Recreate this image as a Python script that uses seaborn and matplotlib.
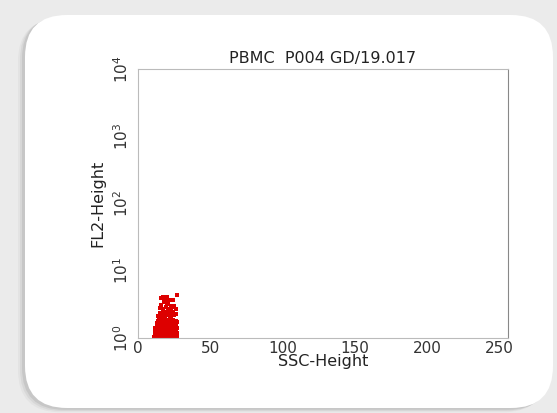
import pandas as pd
import matplotlib.pyplot as plt
import seaborn as sns
from matplotlib.patches import FancyBboxPatch
from matplotlib.ticker import MultipleLocator, LogLocator, LogFormatterMathtext

# Event values (SSC-Height, FL2-Height)
ssc = [11, 12, 13, 14, 15, 16, 17, 18, 19, 20, 21, 22, 23, 24, 25, 26, 27,
       12.5, 14.5, 16.5, 18.5, 20.5, 22.5, 24.5, 26.5, 13.5, 17.5, 21.5, 25.5,
       12, 13, 14, 15, 16, 17, 18, 19, 20, 21, 22, 23, 24, 25, 26, 27,
       12.5, 14.5, 16.5, 18.5, 20.5, 22.5, 24.5, 26.5, 15.5, 19.5, 23.5,
       12, 13, 14, 15, 16, 17, 18, 19, 20, 21, 22, 23, 24, 25, 26, 27,
       13.5, 15.5, 17.5, 19.5, 21.5, 23.5, 25.5, 14.5, 18.5, 22.5,
       13, 14, 15, 16, 17, 18, 19, 20, 21, 22, 23, 24, 25, 26, 27,
       14.5, 16.5, 18.5, 20.5, 22.5, 24.5, 15.5, 19.5, 23.5,
       14, 15, 16, 17, 18, 19, 20, 21, 22, 23, 24, 25, 26,
       16.5, 18.5, 20.5, 22.5, 17.5, 21.5,
       15, 16, 17, 18, 19, 21, 22, 23, 24, 26, 20, 25,
       16, 17, 19, 20, 22, 24, 27, 18]
fl2 = [1.03, 1.08, 1.02, 1.12, 1.05, 1.10, 1.04, 1.14, 1.06, 1.09, 1.03, 1.13, 1.07, 1.11, 1.04, 1.08, 1.05,
       1.15, 1.01, 1.12, 1.06, 1.14, 1.02, 1.10, 1.12, 1.07, 1.09, 1.05, 1.13,
       1.22, 1.18, 1.30, 1.25, 1.20, 1.33, 1.27, 1.19, 1.31, 1.24, 1.17, 1.29, 1.21, 1.34, 1.26, 1.18,
       1.28, 1.35, 1.23, 1.32, 1.19, 1.27, 1.33, 1.22, 1.17, 1.25, 1.30,
       1.40, 1.48, 1.37, 1.55, 1.44, 1.58, 1.39, 1.51, 1.46, 1.60, 1.42, 1.53, 1.38, 1.49, 1.56, 1.41,
       1.45, 1.57, 1.43, 1.52, 1.36, 1.59, 1.47, 1.50, 1.54, 1.44,
       1.65, 1.78, 1.70, 1.88, 1.63, 1.95, 1.74, 1.83, 1.68, 1.92, 1.76, 1.86, 1.66, 1.80, 1.72,
       1.98, 1.69, 1.85, 1.62, 1.90, 1.77, 1.82, 1.73, 1.67,
       2.10, 2.35, 2.05, 2.50, 2.20, 2.42, 2.15, 2.58, 2.28, 2.08, 2.45, 2.18, 2.30,
       2.25, 2.12, 2.40, 2.55, 2.02, 2.33,
       2.75, 3.10, 2.65, 3.40, 2.90, 3.20, 2.70, 3.00, 2.85, 2.68, 3.30, 2.95,
       3.90, 4.10, 3.75, 4.00, 3.60, 3.70, 4.30, 3.85]

df = pd.DataFrame({'SSC-Height': ssc, 'FL2-Height': fl2})

sns.set_style('white')
plt.rcParams['font.family'] = ['DejaVu Sans']

fig = plt.figure(figsize=(5.57, 4.13), dpi=100)
fig.patch.set_facecolor('#ebebeb')

# card shadow + white rounded card (behind the axes)
for off, a in [(0.07, 0.05), (0.05, 0.08), (0.03, 0.12)]:
    fig.patches.append(FancyBboxPatch((0.25 - off, 0.05 - off * 0.6), 5.28, 3.93,
                                      boxstyle='round,pad=0,rounding_size=0.42',
                                      transform=fig.dpi_scale_trans, fc='#555555',
                                      ec='none', alpha=a, zorder=-3))
fig.patches.append(FancyBboxPatch((0.25, 0.05), 5.28, 3.93,
                                  boxstyle='round,pad=0,rounding_size=0.42',
                                  transform=fig.dpi_scale_trans, fc='white',
                                  ec='none', zorder=-2))

ax = fig.add_axes([0.248, 0.182, 0.664, 0.651])
ax.set_facecolor('none')
sns.scatterplot(data=df, x='SSC-Height', y='FL2-Height', ax=ax, color='#dd0000',
                marker='s', s=6, linewidth=0, legend=False)

ax.set_yscale('log')
ax.set_xlim(0, 256)
ax.set_ylim(1, 10000)
ax.xaxis.set_major_locator(MultipleLocator(50))
ax.xaxis.set_minor_locator(MultipleLocator(10))
ax.yaxis.set_major_locator(LogLocator(base=10))
ax.yaxis.set_major_formatter(LogFormatterMathtext())
ax.yaxis.set_minor_locator(LogLocator(base=10, subs=(2, 3, 4, 5, 6, 7, 8, 9)))
ax.tick_params(which='both', direction='in', colors='#999999', labelcolor='#333333',
               labelsize=11, pad=2)
ax.tick_params(axis='y', which='major', pad=5)
ax.tick_params(which='major', length=3)
ax.tick_params(which='minor', length=1.5)
for lbl in ax.get_yticklabels():
    lbl.set_rotation(90)
    lbl.set_va('center')
for sp in ax.spines.values():
    sp.set_color('#bbbbbb')
    sp.set_linewidth(0.8)
ax.spines['right'].set_color('#888888')

ax.set_title('PBMC  P004 GD/19.017', fontsize=11.5, color='#222222', pad=4)
ax.set_xlabel('SSC-Height', fontsize=11.5, color='#222222', labelpad=-1)
ax.set_ylabel('FL2-Height', fontsize=11.5, color='#222222', labelpad=5)

fig.savefig('out.png', dpi=100, facecolor=fig.get_facecolor())
